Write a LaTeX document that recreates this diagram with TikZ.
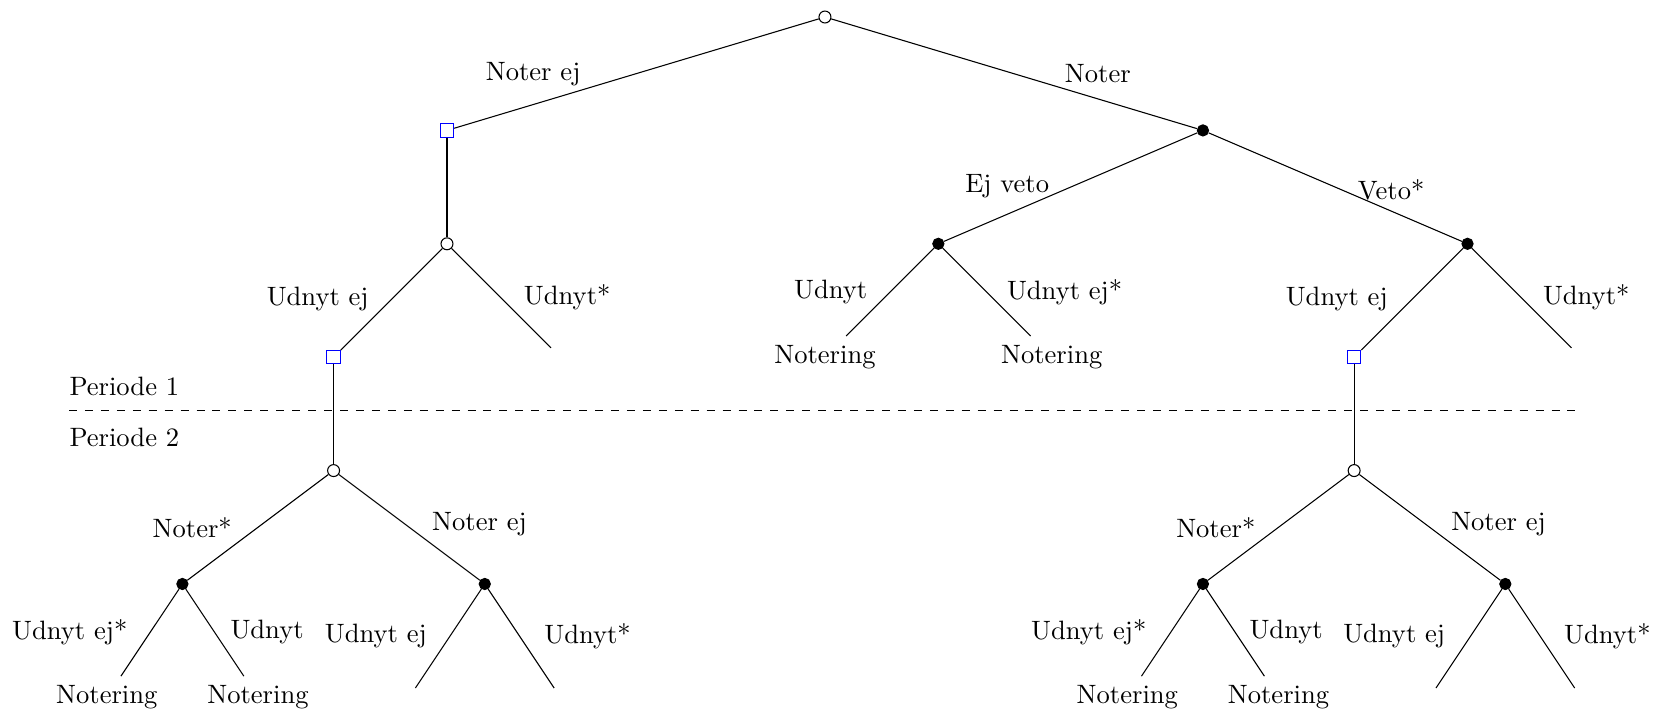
\documentclass[tikz,border=0pt]{standalone}
\tikzset{
  chance/.style={circle,draw,fill=white,inner sep=0pt,minimum size=4.5pt},
  player/.style={circle,draw,fill=black,inner sep=0pt,minimum size=4.2pt},
  infoset/.style={rectangle,draw=blue,fill=white,inner sep=0pt,minimum size=5pt},
  leafnode/.style={inner sep=3.33pt}
}
\begin{document}
\begin{tikzpicture}
\useasboundingbox (-10.913,0.225) rectangle (10.98,-9.18);
% level 0
\node[chance] (r) at (0,0) {};
% level 1
\node[infoset] (a) at (-5,-1.5) {};
\node[player] (b) at (5,-1.5) {};
% level 2
\node[chance] (a1) at (-5,-3) {};
\node[player] (b1) at (1.5,-3) {};
\node[player] (b2) at (8.5,-3) {};
% level 3
\node[infoset] (a11) at (-6.5,-4.5) {};
\node[leafnode] (a12) at (-3.5,-4.5) {};
\node (b11) at (0,-4.5) {Notering};
\node (b12) at (3,-4.5) {Notering};
\node[infoset] (b21) at (7,-4.5) {};
\node[leafnode] (b22) at (10,-4.5) {};
% level 4
\node[chance] (c) at (-6.5,-6) {};
\node[chance] (d) at (7,-6) {};
% level 5
\node[player] (c1) at (-8.5,-7.5) {};
\node[player] (c2) at (-4.5,-7.5) {};
\node[player] (d1) at (5,-7.5) {};
\node[player] (d2) at (9,-7.5) {};
% level 6
\node (c11) at (-9.5,-9) {Notering};
\node (c12) at (-7.5,-9) {Notering};
\node[leafnode] (c21) at (-5.5,-9) {};
\node[leafnode] (c22) at (-3.5,-9) {};
\node (d11) at (4,-9) {Notering};
\node (d12) at (6,-9) {Notering};
\node[leafnode] (d21) at (8,-9) {};
\node[leafnode] (d22) at (10,-9) {};
% edges
\draw (r) -- (a);
\draw (r) -- (b);
\draw (a) -- (a1);
\draw (b) -- (b1);
\draw (b) -- (b2);
\draw (a1) -- (a11);
\draw (a1) -- (a12);
\draw (b1) -- (b11);
\draw (b1) -- (b12);
\draw (b2) -- (b21);
\draw (b2) -- (b22);
\draw (a11) -- (c);
\draw (b21) -- (d);
\draw (c) -- (c1);
\draw (c) -- (c2);
\draw (d) -- (d1);
\draw (d) -- (d2);
\draw (c1) -- (c11);
\draw (c1) -- (c12);
\draw (c2) -- (c21);
\draw (c2) -- (c22);
\draw (d1) -- (d11);
\draw (d1) -- (d12);
\draw (d2) -- (d21);
\draw (d2) -- (d22);
% edge labels
\node (l1) at (-3.86,-0.754) {Noter ej};
\node (l2) at (3.61,-0.754) {Noter};
\node (l3) at (2.41,-2.235) {Ej veto};
\node (l4) at (7.49,-2.29) {Veto*};
\node (l5) at (-6.71,-3.73) {Udnyt ej};
\node (l6) at (-3.41,-3.71) {Udnyt*};
\node (l7) at (0.075,-3.64) {Udnyt};
\node (l8) at (3.17,-3.64) {Udnyt ej*};
\node (l9) at (6.77,-3.73) {Udnyt ej};
\node (l10) at (10.07,-3.71) {Udnyt*};
\node (l11) at (-8.37,-6.76) {Noter*};
\node (l12) at (-4.57,-6.71) {Noter ej};
\node (l13) at (5.17,-6.76) {Noter*};
\node (l14) at (8.91,-6.71) {Noter ej};
\node (l15) at (-9.99,-8.14) {Udnyt ej*};
\node (l16) at (-7.38,-8.14) {Udnyt};
\node (l17) at (-5.94,-8.19) {Udnyt ej};
\node (l18) at (-3.14,-8.19) {Udnyt*};
\node (l19) at (3.49,-8.14) {Udnyt ej*};
\node (l20) at (6.10,-8.14) {Udnyt};
\node (l21) at (7.53,-8.19) {Udnyt ej};
\node (l22) at (10.35,-8.19) {Udnyt*};
% periods
\coordinate (pl) at (-10,-5.21);
\coordinate (pr) at (9.95,-5.21);
\draw[dashed] (pl) -- (pr);
\node[anchor=west,inner sep=0pt] (p1) at (-10,-4.885) {Periode 1};
\node[anchor=west,inner sep=0pt] (p2) at (-10,-5.556) {Periode 2};
\end{tikzpicture}
\end{document}
